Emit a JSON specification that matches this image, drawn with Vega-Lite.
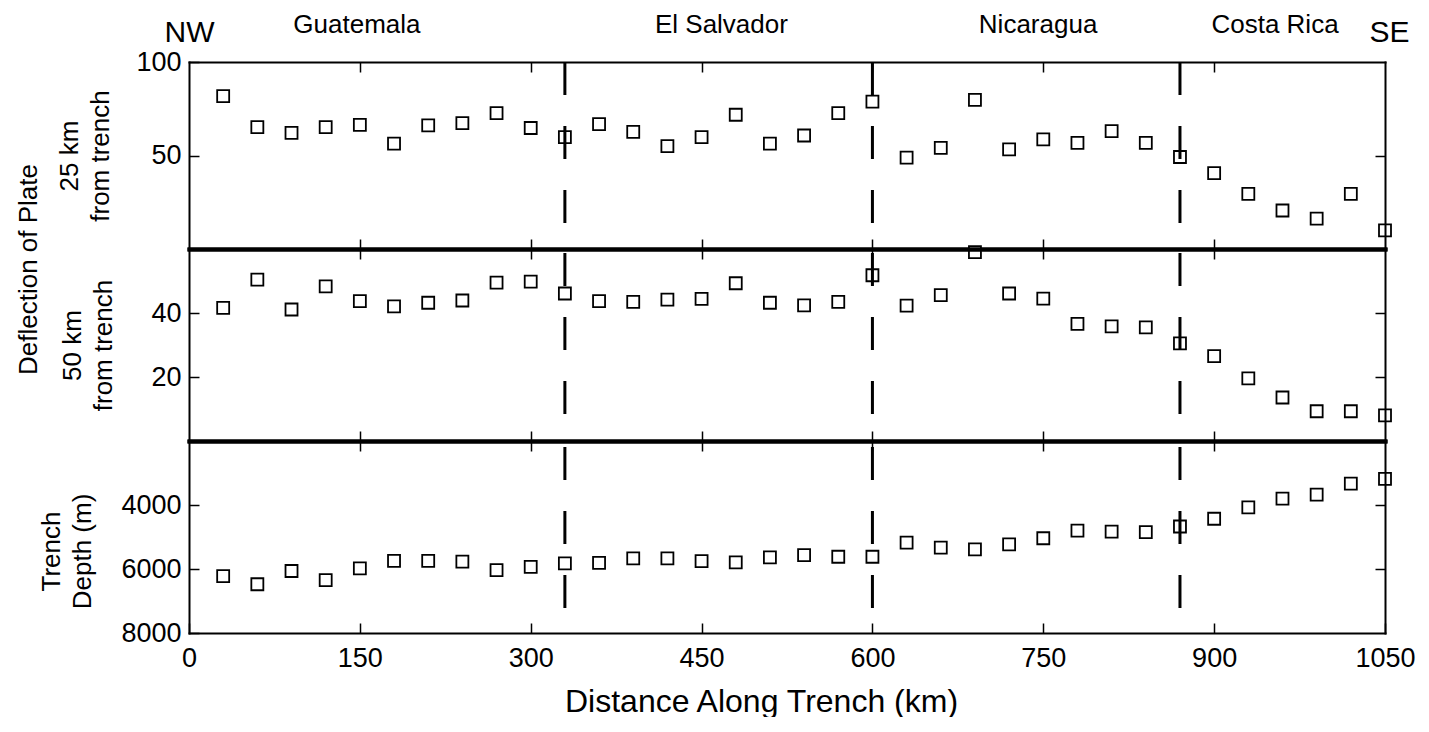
{
  "$schema": "https://vega.github.io/schema/vega-lite/v6.json",
  "padding": {"left": 15, "top": 11, "right": 5, "bottom": 0},
  "background": "white",
  "bounds": "flush",
  "spacing": 0,
  "datasets": {
    "pts": [
      {"km": 30, "d25": 81.8, "d50": 41.6, "depth": 6222},
      {"km": 60, "d25": 65.2, "d50": 50.4, "depth": 6476},
      {"km": 90, "d25": 62.1, "d50": 41.1, "depth": 6063},
      {"km": 120, "d25": 65.2, "d50": 48.3, "depth": 6349},
      {"km": 150, "d25": 66.4, "d50": 43.7, "depth": 5979},
      {"km": 180, "d25": 56.3, "d50": 42.1, "depth": 5746},
      {"km": 210, "d25": 66.1, "d50": 43.2, "depth": 5746},
      {"km": 240, "d25": 67.3, "d50": 43.9, "depth": 5767},
      {"km": 270, "d25": 72.7, "d50": 49.5, "depth": 6037},
      {"km": 300, "d25": 64.7, "d50": 49.8, "depth": 5932},
      {"km": 330, "d25": 59.8, "d50": 46.1, "depth": 5827},
      {"km": 360, "d25": 66.8, "d50": 43.7, "depth": 5806},
      {"km": 390, "d25": 62.6, "d50": 43.5, "depth": 5669},
      {"km": 420, "d25": 55.0, "d50": 44.2, "depth": 5669},
      {"km": 450, "d25": 59.8, "d50": 44.4, "depth": 5753},
      {"km": 480, "d25": 71.8, "d50": 49.3, "depth": 5795},
      {"km": 510, "d25": 56.3, "d50": 43.2, "depth": 5638},
      {"km": 540, "d25": 60.7, "d50": 42.4, "depth": 5564},
      {"km": 570, "d25": 72.7, "d50": 43.5, "depth": 5617},
      {"km": 600, "d25": 78.8, "d50": 51.8, "depth": 5617},
      {"km": 630, "d25": 48.9, "d50": 42.3, "depth": 5176},
      {"km": 660, "d25": 54.1, "d50": 45.6, "depth": 5333},
      {"km": 690, "d25": 79.7, "d50": 59.0, "depth": 5386},
      {"km": 720, "d25": 53.3, "d50": 46.1, "depth": 5228},
      {"km": 750, "d25": 58.6, "d50": 44.5, "depth": 5039},
      {"km": 780, "d25": 56.8, "d50": 36.6, "depth": 4798},
      {"km": 810, "d25": 63.0, "d50": 35.8, "depth": 4829},
      {"km": 840, "d25": 56.8, "d50": 35.5, "depth": 4850},
      {"km": 870, "d25": 49.2, "d50": 30.5, "depth": 4672},
      {"km": 900, "d25": 40.6, "d50": 26.5, "depth": 4430},
      {"km": 930, "d25": 29.5, "d50": 19.6, "depth": 4074},
      {"km": 960, "d25": 20.6, "d50": 13.6, "depth": 3802},
      {"km": 990, "d25": 16.2, "d50": 9.3, "depth": 3676},
      {"km": 1020, "d25": 29.5, "d50": 9.3, "depth": 3329},
      {"km": 1050, "d25": 10.0, "d50": 8.0, "depth": 3181}
    ],
    "bounds": [{"km": 330}, {"km": 600}, {"km": 870}]
  },
  "vconcat": [
    {
      "width": 1196,
      "height": 187,
      "layer": [
        {
          "data": {"name": "pts"},
          "mark": {"type": "point", "shape": "square", "size": 144, "filled": false, "color": "black", "strokeWidth": 1.8, "opacity": 1},
          "encoding": {
            "x": {"field": "km", "type": "quantitative", "scale": {"domain": [0, 1050], "nice": false, "zero": false},
              "axis": {"orient": "bottom", "values": [150, 300, 450, 600, 750, 900], "labels": false, "tickSize": -10, "domainWidth": 4, "title": null}},
            "y": {"field": "d25", "type": "quantitative", "scale": {"domain": [0, 100], "nice": false, "zero": false},
              "axis": {"orient": "left", "values": [50, 100], "format": "d", "tickSize": -10, "labelPadding": 18, "title": ["25 km", "from trench"], "titlePadding": 22}}
          }
        },
        {
          "data": {"name": "bounds"},
          "mark": {"type": "rule", "strokeDash": [33, 31], "strokeWidth": 3, "color": "black"},
          "encoding": {
            "x": {"field": "km", "type": "quantitative", "scale": {"domain": [0, 1050], "nice": false, "zero": false},
              "axis": {
                "orient": "top",
                "values": [0, 147, 150, 300, 450, 467, 600, 745, 750, 900, 953, 1050],
                "tickSize": -10,
                "tickOpacity": {"condition": {"test": "datum.value % 150 === 0 && datum.value > 0 && datum.value < 1050", "value": 1}, "value": 0},
                "labelExpr": "datum.value === 0 ? 'NW' : datum.value === 147 ? 'Guatemala' : datum.value === 467 ? 'El Salvador' : datum.value === 745 ? 'Nicaragua' : datum.value === 953 ? 'Costa Rica' : datum.value === 1050 ? 'SE' : ''",
                "labelFontSize": {"condition": {"test": "datum.value === 0 || datum.value === 1050", "value": 30}, "value": 26},
                "labelPadding": {"condition": {"test": "datum.value === 0 || datum.value === 1050", "value": 31}, "value": 40},
                "labelOffset": {"condition": {"test": "datum.value === 1050", "value": 4}, "value": 0},
                "labelBaseline": "alphabetic",
                "domainWidth": 2,
                "title": null
              }},
            "y": {"datum": 100, "type": "quantitative", "scale": {"domain": [0, 100], "nice": false, "zero": false},
              "axis": {"orient": "right", "values": [50], "labels": false, "tickSize": -10, "title": null}},
            "y2": {"datum": 0}
          }
        },
        {
          "data": {"name": "pts"},
          "mark": {"type": "point", "opacity": 0},
          "encoding": {
            "x": {"field": "km", "type": "quantitative", "scale": {"domain": [0, 1050], "nice": false, "zero": false}, "axis": null},
            "y": {"field": "d25", "type": "quantitative", "scale": {"domain": [0, 100], "nice": false, "zero": false},
              "axis": {"orient": "left", "labels": false, "ticks": false, "domain": false, "title": "Deflection of Plate", "titleY": 207, "titleAlign": "center", "titlePadding": 148, "minExtent": 0, "maxExtent": 0}}
          }
        }
      ],
      "resolve": {"scale": {"x": "independent", "y": "independent"}}
    },
    {
      "width": 1196,
      "height": 192,
      "layer": [
        {
          "data": {"name": "pts"},
          "mark": {"type": "point", "shape": "square", "size": 144, "filled": false, "color": "black", "strokeWidth": 1.8, "opacity": 1},
          "encoding": {
            "x": {"field": "km", "type": "quantitative", "scale": {"domain": [0, 1050], "nice": false, "zero": false},
              "axis": {"orient": "bottom", "values": [150, 300, 450, 600, 750, 900], "labels": false, "tickSize": -10, "domainWidth": 4, "title": null}},
            "y": {"field": "d50", "type": "quantitative", "scale": {"domain": [0, 60], "nice": false, "zero": false},
              "axis": {"orient": "left", "values": [20, 40], "format": "d", "tickSize": -10, "labelPadding": 18, "title": ["50 km", "from trench"], "titlePadding": 34}}
          }
        },
        {
          "data": {"name": "bounds"},
          "mark": {"type": "rule", "strokeDash": [33, 31], "strokeDashOffset": 60, "strokeWidth": 3, "color": "black"},
          "encoding": {
            "x": {"field": "km", "type": "quantitative", "scale": {"domain": [0, 1050], "nice": false, "zero": false},
              "axis": {"orient": "top", "values": [150, 300, 450, 600, 750, 900], "labels": false, "tickSize": -10, "domainWidth": 4, "title": null}},
            "y": {"datum": 60, "type": "quantitative", "scale": {"domain": [0, 60], "nice": false, "zero": false},
              "axis": {"orient": "right", "values": [20, 40], "labels": false, "tickSize": -10, "title": null}},
            "y2": {"datum": 0}
          }
        }
      ],
      "resolve": {"scale": {"x": "independent", "y": "independent"}}
    },
    {
      "width": 1196,
      "height": 192,
      "layer": [
        {
          "data": {"name": "pts"},
          "mark": {"type": "point", "shape": "square", "size": 144, "filled": false, "color": "black", "strokeWidth": 1.8, "opacity": 1},
          "encoding": {
            "x": {"field": "km", "type": "quantitative", "scale": {"domain": [0, 1050], "nice": false, "zero": false},
              "axis": {"orient": "bottom", "values": [0, 150, 300, 450, 600, 750, 900, 1050], "format": "d", "tickSize": -10, "labelPadding": 22, "domainWidth": 2, "title": "Distance Along Trench (km)", "titleFontSize": 32, "titlePadding": 15, "titleX": 572, "titleAlign": "center"}},
            "y": {"field": "depth", "type": "quantitative", "scale": {"domain": [2000, 8000], "reverse": true, "nice": false, "zero": false},
              "axis": {"orient": "left", "values": [4000, 6000, 8000], "format": "d", "tickSize": -10, "labelPadding": 18, "title": ["Trench", "Depth (m)"], "titlePadding": 25, "titleY": 110}}
          }
        },
        {
          "data": {"name": "bounds"},
          "mark": {"type": "rule", "strokeDash": [33, 31], "strokeDashOffset": 58, "strokeWidth": 3, "color": "black"},
          "encoding": {
            "x": {"field": "km", "type": "quantitative", "scale": {"domain": [0, 1050], "nice": false, "zero": false},
              "axis": {"orient": "top", "values": [150, 300, 450, 600, 750, 900], "labels": false, "tickSize": -10, "domainWidth": 4, "title": null}},
            "y": {"datum": 2000, "type": "quantitative", "scale": {"domain": [2000, 8000], "reverse": true, "nice": false, "zero": false},
              "axis": {"orient": "right", "values": [4000, 6000], "labels": false, "tickSize": -10, "title": null}},
            "y2": {"datum": 8000}
          }
        }
      ],
      "resolve": {"scale": {"x": "independent", "y": "independent"}}
    }
  ],
  "resolve": {"scale": {"x": "independent", "y": "independent"}},
  "config": {
    "font": "Liberation Sans",
    "view": {"stroke": null},
    "axis": {
      "grid": false,
      "labelFontSize": 27,
      "labelColor": "black",
      "labelFlush": false,
      "labelOverlap": false,
      "labelBound": false,
      "titleFontSize": 26,
      "titleFontWeight": "normal",
      "titleColor": "black",
      "titleLineHeight": 31,
      "domainColor": "black",
      "domainWidth": 2,
      "domainCap": "square",
      "tickColor": "black",
      "tickWidth": 1.5
    }
  }
}
